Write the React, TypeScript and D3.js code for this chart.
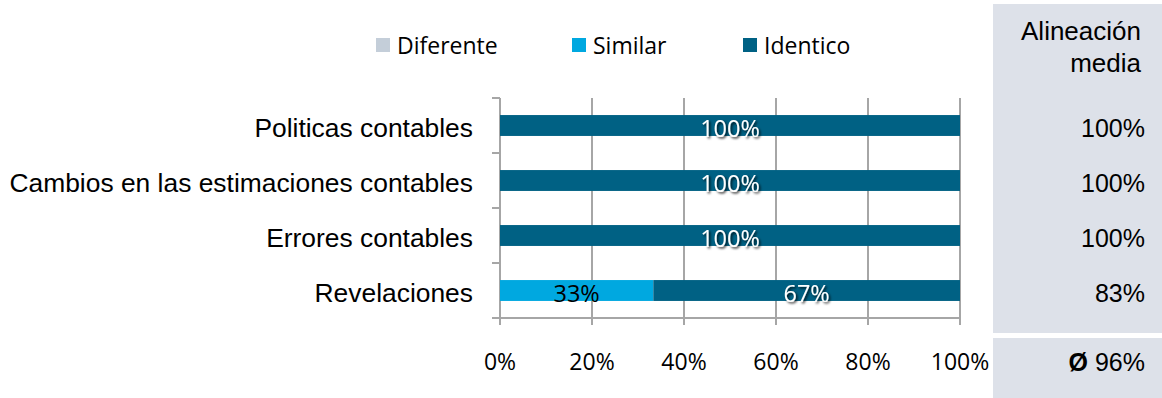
import React from "react";
import * as d3 from "d3";

const categories = [
  "Politicas contables",
  "Cambios en las estimaciones contables",
  "Errores contables",
  "Revelaciones",
];
const seriesKeys = ["Diferente", "Similar", "Identico"];
const diferente = [0, 0, 0, 0];
const similar = [0, 0, 0, 33.33];
const identico = [100, 100, 100, 66.67];
const mediaValues = ["100%", "100%", "100%", "83%"];
const mediaTitle = ["Alineación", "media"];
const averageValue = "96%";
const xTicks = [0, 20, 40, 60, 80, 100];

const colors: Record<string, string> = {
  Diferente: "#c4ced9",
  Similar: "#00a8e0",
  Identico: "#006184",
};
const labelColors: Record<string, string> = {
  Diferente: "#000",
  Similar: "#000",
  Identico: "#fff",
};

const W = 1162;
const H = 398;
const left = 500;
const right = 960;
const top = 98;
const bottom = 318;

const tickFont = "'Open Sans', sans-serif";
const labelFont = "'Liberation Sans', Arial, sans-serif";

export default function App() {
  const rows = categories.map((c, i) => ({
    category: c,
    Diferente: diferente[i],
    Similar: similar[i],
    Identico: identico[i],
  }));
  const stack = d3.stack<any>().keys(seriesKeys);
  const stacked = stack(rows);

  const x = d3.scaleLinear().domain([0, 100]).range([left, right]);
  const y = d3
    .scaleBand<string>()
    .domain(categories)
    .range([top, bottom])
    .paddingInner(0.62)
    .paddingOuter(0.31);
  const step = y.step();
  const rowCenter = (c: string) => (y(c) as number) + y.bandwidth() / 2;
  const boundaries = d3.range(categories.length + 1).map((i) => top + i * step);

  const grid = "#a6a6a6";
  const legendX = [376, 572, 743];

  return (
    <svg
      width={W}
      height={H}
      style={{ position: "absolute", left: 0, top: 0, display: "block" }}
    >
      <defs>
        <filter id="sh" x="-20%" y="-30%" width="140%" height="160%">
          <feDropShadow dx="1.5" dy="1.5" stdDeviation="1" floodColor="#000" floodOpacity="0.85" />
        </filter>
      </defs>
      <rect width={W} height={H} fill="#fff" />

      {/* legend */}
      {seriesKeys.map((k, i) => (
        <g key={k}>
          <rect x={legendX[i]} y={38} width={14} height={14} fill={colors[k]} />
          <text
            x={legendX[i] + 21}
            y={54}
            fontFamily={tickFont}
            fontSize={23}
            fill="#000"
          >
            {k}
          </text>
        </g>
      ))}

      {/* gridlines */}
      {xTicks.map((t) => (
        <line
          key={t}
          x1={x(t)}
          x2={x(t)}
          y1={top}
          y2={bottom + 7}
          stroke={grid}
          strokeWidth={2}
        />
      ))}
      <line x1={left - 8} x2={right} y1={bottom} y2={bottom} stroke={grid} strokeWidth={2} />
      {boundaries.map((b, i) => (
        <line key={i} x1={left - 8} x2={left} y1={b} y2={b} stroke={grid} strokeWidth={2} />
      ))}

      {/* bars */}
      {stacked.map((s) => (
        <g key={s.key}>
          {s.map((d, i) =>
            d[1] - d[0] > 0 ? (
              <rect
                key={i}
                x={x(d[0])}
                y={y(categories[i])}
                width={x(d[1]) - x(d[0])}
                height={y.bandwidth()}
                fill={colors[s.key]}
              />
            ) : null
          )}
        </g>
      ))}
      {stacked.map((s) => (
        <g key={s.key + "l"}>
          {s.map((d, i) =>
            d[1] - d[0] > 0 ? (
              <text
                key={i}
                x={(x(d[0]) + x(d[1])) / 2}
                y={rowCenter(categories[i]) + 11}
                textAnchor="middle"
                fontFamily={tickFont}
                fontSize={23.5}
                fill={labelColors[s.key]}
                filter={s.key === "Identico" ? "url(#sh)" : undefined}
              >
                {Math.round(d[1] - d[0]) + "%"}
              </text>
            ) : null
          )}
        </g>
      ))}

      {/* category labels */}
      {categories.map((c) => (
        <text
          key={c}
          x={473}
          y={rowCenter(c) + 11}
          textAnchor="end"
          fontFamily={labelFont}
          fontSize={26.4}
          fill="#000"
        >
          {c}
        </text>
      ))}

      {/* x tick labels */}
      {xTicks.map((t) => (
        <text
          key={t}
          x={x(t)}
          y={370}
          textAnchor="middle"
          fontFamily={tickFont}
          fontSize={23}
          fill="#000"
        >
          {t + "%"}
        </text>
      ))}

      {/* right panel */}
      <rect x={993} y={4} width={W - 993} height={329} fill="#dde1e9" />
      <rect x={993} y={338} width={W - 993} height={H - 338} fill="#dde1e9" />
      {mediaTitle.map((t, i) => (
        <text
          key={t}
          x={1141}
          y={40 + i * 32}
          textAnchor="end"
          fontFamily={labelFont}
          fontSize={26}
          fill="#000"
        >
          {t}
        </text>
      ))}
      {categories.map((c, i) => (
        <text
          key={c + "m"}
          x={1145}
          y={rowCenter(c) + 11}
          textAnchor="end"
          fontFamily={labelFont}
          fontSize={25}
          fill="#000"
        >
          {mediaValues[i]}
        </text>
      ))}
      <text
        x={1145}
        y={371}
        textAnchor="end"
        fontFamily={labelFont}
        fontSize={25}
        fill="#000"
      >
        <tspan fontWeight="bold">Ø</tspan>
        <tspan>{"  " + averageValue}</tspan>
      </text>
    </svg>
  );
}
